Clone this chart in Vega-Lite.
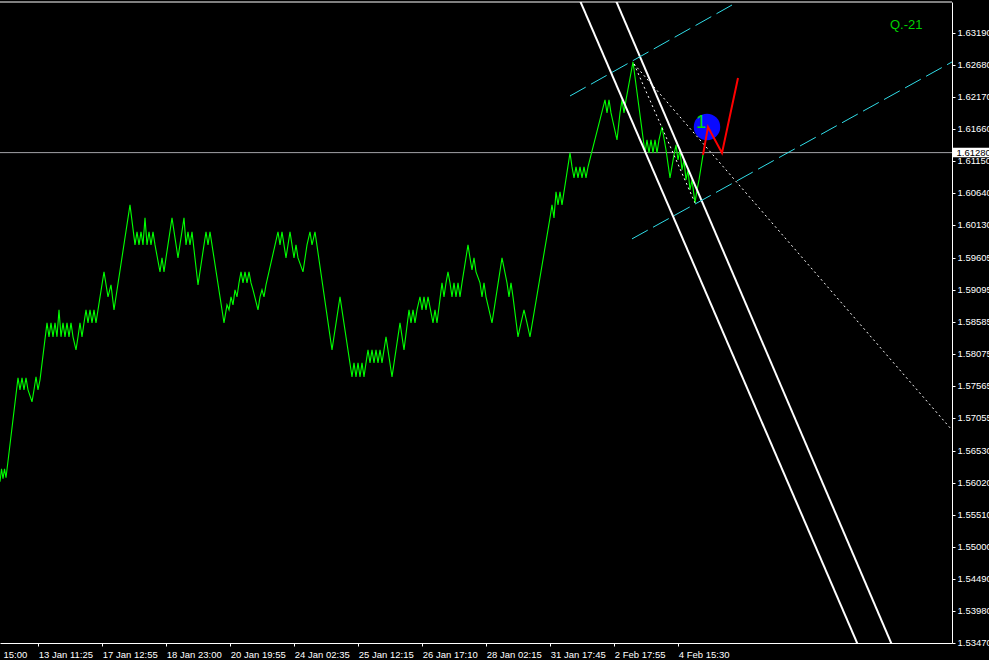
{
  "$schema": "https://vega.github.io/schema/vega-lite/v6.json",
  "width": 952,
  "height": 641,
  "autosize": {"type": "none"},
  "padding": {"left": 0, "top": 2, "right": 37, "bottom": 17},
  "background": "#000000",
  "config": {"view": {"stroke": null}},
  "datasets": {
    "green": [
      {"bar":0,"price":1.56038},{"bar":1.5,"price":1.56244},{"bar":3,"price":1.56085},{"bar":4.5,"price":1.56244},{"bar":6,"price":1.56101},
      {"bar":18,"price":1.57693},{"bar":20,"price":1.57502},{"bar":22,"price":1.57693},{"bar":24,"price":1.57502},{"bar":26,"price":1.57693},{"bar":28,"price":1.57502},
      {"bar":32,"price":1.57311},{"bar":34,"price":1.57502},{"bar":36,"price":1.57709},{"bar":38,"price":1.57502},{"bar":40,"price":1.57661},
      {"bar":47,"price":1.58569},{"bar":49,"price":1.58346},{"bar":51,"price":1.58569},{"bar":53,"price":1.58346},{"bar":55,"price":1.58569},{"bar":57,"price":1.58346},
      {"bar":59,"price":1.58776},{"bar":61,"price":1.58346},{"bar":63,"price":1.58569},{"bar":65,"price":1.58346},{"bar":67,"price":1.58569},{"bar":69,"price":1.58346},{"bar":71,"price":1.58569},{"bar":73,"price":1.58346},
      {"bar":76,"price":1.58139},{"bar":78,"price":1.58346},{"bar":80,"price":1.58569},{"bar":82,"price":1.58346},{"bar":84,"price":1.58569},{"bar":86,"price":1.58776},
      {"bar":88,"price":1.58569},{"bar":90,"price":1.58776},{"bar":92,"price":1.58569},{"bar":94,"price":1.58776},{"bar":96,"price":1.58569},{"bar":98,"price":1.58776},
      {"bar":104,"price":1.59381},{"bar":108,"price":1.58983},{"bar":111,"price":1.59174},{"bar":114,"price":1.58776},
      {"bar":130,"price":1.60447},{"bar":135,"price":1.5981},{"bar":137,"price":1.60017},{"bar":139,"price":1.5981},{"bar":141,"price":1.60017},{"bar":143,"price":1.5981},
      {"bar":145,"price":1.6024},{"bar":147,"price":1.5981},{"bar":149,"price":1.60017},{"bar":151,"price":1.5981},{"bar":153,"price":1.60017},{"bar":155,"price":1.5981},
      {"bar":160,"price":1.59381},{"bar":162,"price":1.59603},{"bar":164,"price":1.59381},{"bar":166,"price":1.59603},
      {"bar":172,"price":1.6024},{"bar":178,"price":1.59603},{"bar":184,"price":1.6024},{"bar":186,"price":1.5981},{"bar":188,"price":1.60017},{"bar":190,"price":1.5981},{"bar":192,"price":1.60017},
      {"bar":198,"price":1.59174},{"bar":204,"price":1.5981},{"bar":206,"price":1.60017},{"bar":208,"price":1.5981},{"bar":210,"price":1.60017},
      {"bar":224,"price":1.58569},{"bar":227,"price":1.58855},{"bar":229,"price":1.58776},{"bar":231,"price":1.58983},{"bar":233,"price":1.58855},{"bar":235,"price":1.59094},
      {"bar":237,"price":1.58983},{"bar":239,"price":1.59205},{"bar":241,"price":1.59381},{"bar":243,"price":1.59205},{"bar":245,"price":1.59381},{"bar":247,"price":1.59205},
      {"bar":249,"price":1.59381},{"bar":251,"price":1.59205},{"bar":253,"price":1.59094},{"bar":258,"price":1.58776},{"bar":260,"price":1.58983},{"bar":262,"price":1.59094},
      {"bar":264,"price":1.58983},{"bar":266,"price":1.59174},{"bar":278,"price":1.60017},{"bar":280,"price":1.5981},{"bar":282,"price":1.60017},{"bar":284,"price":1.5981},
      {"bar":286,"price":1.59603},{"bar":288,"price":1.5981},{"bar":290,"price":1.60017},{"bar":292,"price":1.5981},{"bar":294,"price":1.59603},{"bar":296,"price":1.5981},
      {"bar":298,"price":1.59603},{"bar":303,"price":1.59381},{"bar":307,"price":1.5981},{"bar":310,"price":1.60017},{"bar":312,"price":1.5981},{"bar":315,"price":1.60017},
      {"bar":332,"price":1.58139},{"bar":340,"price":1.58983},{"bar":352,"price":1.57709},{"bar":354,"price":1.57932},{"bar":356,"price":1.57709},{"bar":358,"price":1.57932},
      {"bar":360,"price":1.57709},{"bar":362,"price":1.57932},{"bar":364,"price":1.57709},{"bar":366,"price":1.57932},{"bar":368,"price":1.58139},{"bar":370,"price":1.57932},
      {"bar":372,"price":1.58139},{"bar":374,"price":1.57932},{"bar":376,"price":1.58139},{"bar":378,"price":1.57932},{"bar":380,"price":1.58139},{"bar":382,"price":1.57932},
      {"bar":386,"price":1.58346},{"bar":392,"price":1.57709},{"bar":400,"price":1.58569},{"bar":404,"price":1.58139},{"bar":409,"price":1.58776},{"bar":411,"price":1.58569},
      {"bar":413,"price":1.58776},{"bar":415,"price":1.58569},{"bar":417,"price":1.58776},{"bar":420,"price":1.58983},{"bar":422,"price":1.58776},{"bar":424,"price":1.58983},
      {"bar":426,"price":1.58776},{"bar":428,"price":1.58983},{"bar":433,"price":1.58569},{"bar":435,"price":1.58776},{"bar":437,"price":1.58569},{"bar":442,"price":1.59205},
      {"bar":444,"price":1.58983},{"bar":446,"price":1.59205},{"bar":448,"price":1.59381},{"bar":450,"price":1.59205},{"bar":452,"price":1.58983},{"bar":454,"price":1.59205},
      {"bar":456,"price":1.58983},{"bar":458,"price":1.59205},{"bar":460,"price":1.58983},{"bar":462,"price":1.59205},{"bar":468,"price":1.5981},{"bar":470,"price":1.59603},
      {"bar":472,"price":1.59412},{"bar":474,"price":1.59603},{"bar":476,"price":1.59381},{"bar":480,"price":1.59205},{"bar":482,"price":1.58983},{"bar":484,"price":1.59205},
      {"bar":486,"price":1.58983},{"bar":492,"price":1.58569},{"bar":502,"price":1.59603},{"bar":507,"price":1.59205},{"bar":509,"price":1.58983},{"bar":511,"price":1.59205},
      {"bar":513,"price":1.58983},{"bar":518,"price":1.58346},{"bar":521,"price":1.58569},{"bar":524,"price":1.58776},{"bar":527,"price":1.58569},{"bar":530,"price":1.58346},
      {"bar":550,"price":1.6024},{"bar":552,"price":1.60447},{"bar":554,"price":1.6024},{"bar":556,"price":1.60654},{"bar":558,"price":1.60447},{"bar":560,"price":1.60654},
      {"bar":562,"price":1.60447},{"bar":564,"price":1.60654},{"bar":570,"price":1.61275},{"bar":572,"price":1.61052},{"bar":574,"price":1.60877},{"bar":576,"price":1.61052},
      {"bar":578,"price":1.60877},{"bar":580,"price":1.61052},{"bar":582,"price":1.60877},{"bar":584,"price":1.61052},{"bar":586,"price":1.60877},{"bar":588,"price":1.61052},
      {"bar":605,"price":1.62119},{"bar":607,"price":1.61912},{"bar":609,"price":1.62119},{"bar":611,"price":1.61912},{"bar":617,"price":1.61482},{"bar":620,"price":1.61912},
      {"bar":622,"price":1.62119},{"bar":624,"price":1.61912},{"bar":626,"price":1.62119},{"bar":633,"price":1.62724},{"bar":645,"price":1.61275},{"bar":647,"price":1.61482},
      {"bar":649,"price":1.61275},{"bar":651,"price":1.61482},{"bar":653,"price":1.61275},{"bar":655,"price":1.61482},{"bar":657,"price":1.61275},{"bar":659,"price":1.61482},
      {"bar":662,"price":1.61689},{"bar":666,"price":1.61323},{"bar":670,"price":1.60877},{"bar":674,"price":1.61243},{"bar":676,"price":1.61402},{"bar":678,"price":1.61163},
      {"bar":680,"price":1.61323},{"bar":682,"price":1.61004},{"bar":684,"price":1.61163},{"bar":686,"price":1.60845},{"bar":688,"price":1.61004},{"bar":690,"price":1.60686},
      {"bar":692,"price":1.60845},{"bar":695,"price":1.60479},{"bar":697,"price":1.60686},{"bar":699,"price":1.60845},{"bar":703,"price":1.61243}
    ],
    "red": [
      {"bar":703,"price":1.61243},{"bar":708,"price":1.61689},{"bar":722,"price":1.61275},{"bar":738,"price":1.62469}
    ],
    "white": [
      {"id":"A","bar":575.4,"price":1.6387},{"id":"A","bar":864.3,"price":1.53204},
      {"id":"B","bar":611.4,"price":1.6387},{"id":"B","bar":898.3,"price":1.53204}
    ],
    "cyan": [
      {"id":"U","bar":570,"price":1.62182},{"id":"U","bar":732,"price":1.63631},
      {"id":"L","bar":632,"price":1.59906},{"id":"L","bar":952,"price":1.62724}
    ],
    "dotted": [
      {"id":"D1","bar":634,"price":1.62692},{"id":"D1","bar":695,"price":1.60479},
      {"id":"D2","bar":634,"price":1.62692},{"id":"D2","bar":950,"price":1.56897}
    ],
    "hline": [{"bar":0,"price":1.6128},{"bar":952,"price":1.6128}],
    "frame": [{"bar":0,"price":1.63679},{"bar":952,"price":1.63679}]
  },
  "encoding": {
    "x": {
      "field": "bar", "type": "quantitative",
      "scale": {"domain": [0, 952], "nice": false, "zero": false},
      "axis": {
        "title": null, "grid": false,
        "values": [3, 38.3, 102.3, 166.3, 230.3, 294.3, 358.3, 422.3, 486.3, 550.3, 614.3, 678.3],
        "labelExpr": "['15:00','13 Jan 11:25','17 Jan 12:55','18 Jan 23:00','20 Jan 19:55','24 Jan 02:35','25 Jan 12:15','26 Jan 17:10','28 Jan 02:15','31 Jan 17:45','2 Feb 17:55','4 Feb 15:30'][round((datum.value + 25.7) / 64)]",
        "labelAlign": "left", "labelColor": "#ffffff", "labelFont": "Liberation Sans", "labelFontSize": 9.5,
        "labelPadding": 3, "labelFlush": false, "labelOverlap": false,
        "tickColor": "#ffffff", "tickSize": 3,
        "tickOpacity": {"condition": {"test": "datum.value < 10", "value": 0}, "value": 1},
        "domainColor": "#ffffff"
      }
    },
    "y": {
      "field": "price", "type": "quantitative",
      "scale": {"domain": [1.53469, 1.63679], "nice": false, "zero": false},
      "axis": {
        "orient": "right", "title": null, "grid": false,
        "values": [1.6319, 1.6268, 1.6217, 1.6166, 1.6115, 1.6064, 1.6013, 1.59605, 1.59095, 1.58585, 1.58075, 1.57565, 1.57055, 1.5653, 1.5602, 1.5551, 1.55, 1.5449, 1.5398, 1.5347],
        "format": ".5f",
        "labelColor": "#ffffff", "labelFont": "Liberation Sans", "labelFontSize": 9.5,
        "labelPadding": 2, "labelFlush": false, "labelOverlap": false,
        "tickColor": "#ffffff", "tickSize": 3, "domainColor": "#ffffff"
      }
    }
  },
  "layer": [
    {"data": {"name": "hline"}, "mark": {"type": "line", "color": "#a3a3a8", "strokeWidth": 1, "clip": true}},
    {"data": {"name": "green"}, "mark": {"type": "line", "color": "#00ff00", "strokeWidth": 1.1, "clip": true}},
    {"data": {"name": "white"}, "mark": {"type": "line", "color": "#ffffff", "strokeWidth": 2, "clip": true}, "encoding": {"detail": {"field": "id"}}},
    {"data": {"name": "cyan"}, "mark": {"type": "line", "color": "#30dde8", "strokeWidth": 1, "strokeDash": [18, 6], "clip": true}, "encoding": {"detail": {"field": "id"}}},
    {"data": {"values": [{"bar": 707, "price": 1.61689}]}, "mark": {"type": "circle", "color": "#0a0aff", "opacity": 1, "size": 700}},
    {"data": {"name": "dotted"}, "mark": {"type": "line", "color": "#ffffff", "strokeWidth": 1, "strokeDash": [2, 3], "clip": true}, "encoding": {"detail": {"field": "id"}}},
    {"data": {"name": "red"}, "mark": {"type": "line", "color": "#ff0000", "strokeWidth": 2, "clip": true}},
    {"data": {"values": [{"bar": 701, "price": 1.61745, "label": "1"}]}, "mark": {"type": "text", "color": "#00e000", "font": "Liberation Sans", "fontSize": 18, "align": "center", "baseline": "middle"}, "encoding": {"text": {"field": "label"}}},
    {"data": {"values": [{"bar": 890, "price": 1.63249, "label": "Q.-21"}]}, "mark": {"type": "text", "color": "#00d000", "font": "Liberation Sans", "fontSize": 13, "align": "left", "baseline": "alphabetic"}, "encoding": {"text": {"field": "label"}}},
    {"data": {"values": [{"bar": 952.5, "bar2": 995, "price": 1.61359, "price2": 1.61206}]}, "mark": {"type": "rect", "color": "#ffffff", "clip": false}, "encoding": {"x2": {"field": "bar2"}, "y2": {"field": "price2"}}},
    {"data": {"values": [{"bar": 956.5, "price": 1.6128, "label": "1.61280"}]}, "mark": {"type": "text", "color": "#000000", "font": "Liberation Sans", "fontSize": 9.5, "align": "left", "baseline": "middle", "clip": false}, "encoding": {"text": {"field": "label"}}},
    {"data": {"name": "frame"}, "mark": {"type": "line", "color": "#ffffff", "strokeWidth": 1}}
  ]
}
